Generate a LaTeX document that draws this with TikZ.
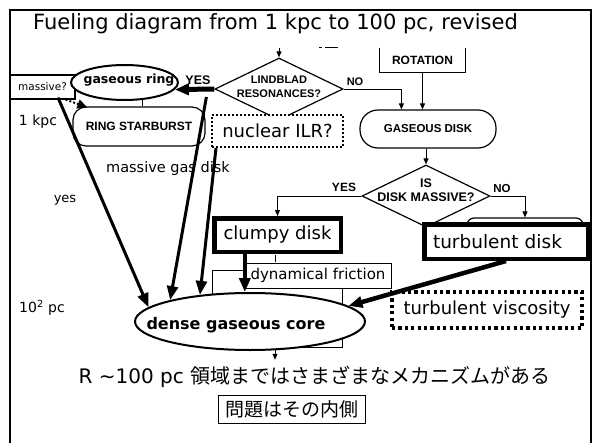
\documentclass[tikz,border=0pt]{standalone}
\usepackage{fontspec}
\setmainfont{DejaVu Sans}
\newfontfamily\capsf{Liberation Sans}
\newfontfamily\jpf{Noto Sans CJK JP}
\usetikzlibrary{shapes.geometric, arrows.meta, calc}
\newcommand{\fsz}[1]{\fontsize{#1}{#1}\selectfont}

\tikzset{
  linebox/.style={draw, line width=1.2pt, fill=white, inner sep=0pt},
  fatbox/.style={draw, line width=4.5pt, fill=white, inner sep=0pt},
  dotbox/.style={draw, line width=#1, dash pattern=on #1 off #1, fill=white, inner sep=0pt},
  dotbox/.default=2.5pt,
  oval/.style={ellipse, draw, line width=2pt, fill=white, inner sep=0pt},
  decision/.style={diamond, draw, line width=1.2pt, fill=white, inner sep=0pt},
  caps/.style={font=\capsf\bfseries\fsz{#1}},
  caps/.default=11pt,
  thinarr/.style={-{Triangle[length=6pt,width=5pt]}, line width=1pt},
  fatarr/.style={-{Triangle[length=14pt,width=11pt]}, line width=3pt},
}

\begin{document}
\begin{tikzpicture}[x=1pt, y=-1pt]
\useasboundingbox (0,0) rectangle (597,442);
\fill[white] (0,0) rectangle (597,442);
% frame, open at the bottom
\draw[line width=2.5pt] (10,446) -- (10,10) -- (591,10) -- (591,446);

\node[font=\fsz{21pt}] (title) at (275.5,24) {Fueling diagram from 1 kpc to 100 pc, revised};

% ring branch, upper left
\node[linebox, minimum width=65pt, minimum height=24pt, font=\fsz{10.5pt}] (massq) at (42.5,87) {massive?};
\node[oval, minimum width=107pt, minimum height=35pt,
      label={[font=\bfseries\fsz{12.5pt}, xshift=4.5pt, yshift=2.5pt]center:gaseous ring}] (gring) at (124.5,82.5) {};
\node[linebox, rounded corners=13pt, minimum width=132pt, minimum height=39pt, caps=12pt] (rstar) at (139,126.5) {RING STARBURST};

% resonance test
\coordinate (ldin) at (279,48);
\draw[line width=0.8pt] (319,47) -- (322,47) (325,47) -- (338,47);
\node[decision, minimum width=128pt, minimum height=62pt] (ldia) at (279,89) {};
\node[font=\capsf\bfseries\fontsize{11pt}{14pt}\selectfont, align=center] (ldtxt) at (279,87) {LINDBLAD\\RESONANCES?};
\node[caps=12.5pt] (yesA) at (198,80) {YES};
\node[caps=11pt] (noA) at (355,82) {NO};
\node[dotbox=2pt, minimum width=131pt, minimum height=32pt, font=\fsz{18pt}] (nilr) at (277.5,131) {nuclear ILR?};

% disk branch, right
\node[caps=12pt, minimum width=85pt, minimum height=24pt, inner sep=0pt] (rot) at (422.5,60) {ROTATION};
\draw[line width=1.2pt] (rot.north west) -- (rot.south west) -- (rot.south east) -- (rot.north east);
\node[linebox, rounded corners=18pt, minimum width=136pt, minimum height=38pt, caps=11.5pt] (gdisk) at (428,129) {GASEOUS DISK};
\node[decision, minimum width=128pt, minimum height=62pt] (ddia) at (426,196) {};
\node[font=\capsf\bfseries\fontsize{12.5pt}{13.5pt}\selectfont, align=center] (ddtxt) at ($(ddia)+(0,-6)$) {IS\\DISK MASSIVE?};
\node[caps=12pt] (yesB) at (344,187) {YES};
\node[caps=11.5pt] (noB) at (502,189) {NO};
\node[draw, line width=1.2pt, rounded corners=7pt, fill=white, minimum width=116pt, minimum height=30pt] (tback) at (525,233) {};
\node[fatbox, minimum width=163.5pt, minimum height=34.5pt, text width=146pt, align=left, font=\fsz{18.5pt}] (tdisk) at (506,241.5) {turbulent disk};

% clumpy branch
\draw[line width=0.8pt] (212,270) rectangle (342,347);
\node[fatbox, minimum width=126.5pt, minimum height=33.5pt, font=\fsz{18pt}] (clumpy) at (277.5,235) {clumpy disk};
\draw[line width=0.8pt] (275,255) -- (275,262);
\node[linebox, line width=0.9pt, minimum width=146pt, minimum height=25pt, font=\fsz{15pt}] (dfric) at (318,275.5) {dynamical friction};

% core
\node[oval, minimum width=230pt, minimum height=57pt,
      label={[font=\bfseries\fsz{16pt}, xshift=-14pt, yshift=-4pt]center:dense gaseous core}] (core) at (250,321.5) {};
\coordinate (coreout) at ($(core.-49)+(0,9.5)$);
\node[dotbox=3.2pt, minimum width=190pt, minimum height=36pt, font=\fsz{18pt}] (tvisc) at (487,310) {turbulent viscosity};

% scale marks and notes
\node[font=\fsz{14pt}] (kpc) at (38,122) {1 kpc};
\node[font=\fsz{14.5pt}] (mgd) at (168,168) {massive gas disk};
\node[font=\fsz{13pt}] (yeslbl) at (65,200) {yes};
\node[font=\fsz{14pt}] (hpc) at (42,308) {10\textsuperscript{2} pc};
\node[font=\fsz{20pt}] (summary) at (314.5,377) {R \textasciitilde100 pc {\jpf 領域まではさまざまなメカニズムがある}};
\node[linebox, line width=1pt, minimum width=147pt, minimum height=28pt, font=\jpf\fsz{19pt}] (inner) at (291.5,409) {問題はその内側};

% connectors
\draw[thinarr] (ldin) -- (ldia.north);
\draw[fatarr, line width=5pt] (ldia.west) -- (gring.-8);
\draw[thinarr] (ldia.east) -| ($(gdisk.north west)+(42,0)$);
\draw[thinarr] (rot.south) -- (rot.south |- gdisk.north);
\draw[thinarr] (gdisk.south -| ddia.north) -- (ddia.north);
\draw[thinarr] (ddia.west) -| (clumpy.north);
\draw[thinarr] (ddia.east) -| (tback.north);
\draw[line width=1pt] (gring.-45) -- (gring.-45 |- rstar.north);
\draw[-{Triangle[length=10pt,width=9pt]}, line width=2pt, dotted] ($(massq.south east)+(-10,0)$) -- ($(rstar.north west)+(15,1)$);
\draw[fatarr] ($(massq.south)+(15.5,-2)$) -- (core.172);
\draw[fatarr] ($(ldia.west)+(-8,8)$) -- (core.165);
\draw[fatarr] ($(nilr.south west)+(5,0)$) -- (core.152);
\draw[fatarr, line width=4pt] (clumpy.south -| core.100) -- (core.100);
\draw[fatarr, line width=4.5pt] (tdisk.south) -- (core.9);
\draw[thinarr] (core.-49) -- (coreout);
\end{tikzpicture}
\end{document}
